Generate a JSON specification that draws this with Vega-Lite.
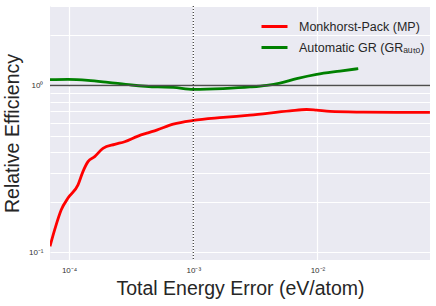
{
  "$schema": "https://vega.github.io/schema/vega-lite/v6.json",
  "width": 380,
  "height": 254,
  "autosize": {"type": "none"},
  "padding": {"left": 50, "top": 6, "right": 6, "bottom": 46},
  "background": "white",
  "config": {
    "view": {"fill": "#EAEAF2", "stroke": null},
    "font": "Liberation Sans",
    "axis": {
      "domain": false,
      "ticks": false,
      "gridColor": "white",
      "gridWidth": 1.2,
      "gridOpacity": 1,
      "labelFont": "Liberation Sans",
      "labelFontSize": 8,
      "labelColor": "#333333",
      "titleFont": "Liberation Sans",
      "titleFontSize": 19.5,
      "titleFontWeight": "normal",
      "titleColor": "#262626"
    },
    "legend": {
      "labelFont": "Liberation Sans",
      "labelFontSize": 12.5,
      "labelColor": "#262626"
    }
  },
  "datasets": {
    "curves": [
      {"err": 7.02e-5, "eff": 0.1087, "method": "Monkhorst-Pack (MP)"},
      {"err": 7.66e-5, "eff": 0.1368, "method": "Monkhorst-Pack (MP)"},
      {"err": 8.65e-5, "eff": 0.180, "method": "Monkhorst-Pack (MP)"},
      {"err": 9.80e-5, "eff": 0.2115, "method": "Monkhorst-Pack (MP)"},
      {"err": 1.18e-4, "eff": 0.254, "method": "Monkhorst-Pack (MP)"},
      {"err": 1.293e-4, "eff": 0.305, "method": "Monkhorst-Pack (MP)"},
      {"err": 1.42e-4, "eff": 0.350, "method": "Monkhorst-Pack (MP)"},
      {"err": 1.607e-4, "eff": 0.375, "method": "Monkhorst-Pack (MP)"},
      {"err": 1.875e-4, "eff": 0.4205, "method": "Monkhorst-Pack (MP)"},
      {"err": 2.33e-4, "eff": 0.4443, "method": "Monkhorst-Pack (MP)"},
      {"err": 2.80e-4, "eff": 0.4606, "method": "Monkhorst-Pack (MP)"},
      {"err": 3.59e-4, "eff": 0.498, "method": "Monkhorst-Pack (MP)"},
      {"err": 4.32e-4, "eff": 0.521, "method": "Monkhorst-Pack (MP)"},
      {"err": 5.07e-4, "eff": 0.541, "method": "Monkhorst-Pack (MP)"},
      {"err": 6.90e-4, "eff": 0.587, "method": "Monkhorst-Pack (MP)"},
      {"err": 1.0e-3, "eff": 0.618, "method": "Monkhorst-Pack (MP)"},
      {"err": 1.744e-3, "eff": 0.644, "method": "Monkhorst-Pack (MP)"},
      {"err": 2.86e-3, "eff": 0.665, "method": "Monkhorst-Pack (MP)"},
      {"err": 6.01e-3, "eff": 0.705, "method": "Monkhorst-Pack (MP)"},
      {"err": 8.18e-3, "eff": 0.719, "method": "Monkhorst-Pack (MP)"},
      {"err": 9.85e-3, "eff": 0.712, "method": "Monkhorst-Pack (MP)"},
      {"err": 1.262e-2, "eff": 0.700, "method": "Monkhorst-Pack (MP)"},
      {"err": 2.34e-2, "eff": 0.693, "method": "Monkhorst-Pack (MP)"},
      {"err": 4.34e-2, "eff": 0.690, "method": "Monkhorst-Pack (MP)"},
      {"err": 8.05e-2, "eff": 0.690, "method": "Monkhorst-Pack (MP)"},
      {"err": 7.02e-5, "eff": 1.086, "method": "Automatic GR (GRₐᵤₜₒ)"},
      {"err": 9.80e-5, "eff": 1.090, "method": "Automatic GR (GRₐᵤₜₒ)"},
      {"err": 1.42e-4, "eff": 1.076, "method": "Automatic GR (GRₐᵤₜₒ)"},
      {"err": 2.056e-4, "eff": 1.046, "method": "Automatic GR (GRₐᵤₜₒ)"},
      {"err": 3.17e-4, "eff": 1.008, "method": "Automatic GR (GRₐᵤₜₒ)"},
      {"err": 5.20e-4, "eff": 0.981, "method": "Automatic GR (GRₐᵤₜₒ)"},
      {"err": 6.90e-4, "eff": 0.975, "method": "Automatic GR (GRₐᵤₜₒ)"},
      {"err": 1.0e-3, "eff": 0.950, "method": "Automatic GR (GRₐᵤₜₒ)"},
      {"err": 1.744e-3, "eff": 0.960, "method": "Automatic GR (GRₐᵤₜₒ)"},
      {"err": 2.86e-3, "eff": 0.981, "method": "Automatic GR (GRₐᵤₜₒ)"},
      {"err": 3.90e-3, "eff": 1.004, "method": "Automatic GR (GRₐᵤₜₒ)"},
      {"err": 4.99e-3, "eff": 1.036, "method": "Automatic GR (GRₐᵤₜₒ)"},
      {"err": 6.80e-3, "eff": 1.101, "method": "Automatic GR (GRₐᵤₜₒ)"},
      {"err": 9.85e-3, "eff": 1.168, "method": "Automatic GR (GRₐᵤₜₒ)"},
      {"err": 1.518e-2, "eff": 1.222, "method": "Automatic GR (GRₐᵤₜₒ)"},
      {"err": 2.13e-2, "eff": 1.263, "method": "Automatic GR (GRₐᵤₜₒ)"}
    ]
  },
  "layer": [
    {
      "data": {"name": "curves"},
      "mark": {"type": "line", "strokeWidth": 2.8, "interpolate": "monotone", "clip": true},
      "encoding": {
        "x": {
          "field": "err",
          "type": "quantitative",
          "scale": {"type": "log", "domain": [7.02e-5, 0.0806], "nice": false},
          "axis": {
            "title": "Total Energy Error (eV/atom)",
            "values": [0.0001, 0.001, 0.01],
            "labelExpr": "datum.value < 0.0005 ? '10⁻⁴' : datum.value < 0.005 ? '10⁻³' : '10⁻²'",
            "labelPadding": 6,
            "titlePadding": 5
          }
        },
        "y": {
          "field": "eff",
          "type": "quantitative",
          "scale": {"type": "log", "domain": [0.09, 3], "nice": false},
          "axis": {
            "title": "Relative Efficiency",
            "values": [0.1, 0.2, 0.3, 0.4, 0.5, 0.6, 0.7, 0.8, 0.9, 1, 2, 3],
            "labelExpr": "abs(datum.value - 1) < 1e-9 ? '10⁰' : abs(datum.value - 0.1) < 1e-9 ? '10⁻¹' : ''",
            "labelPadding": 7,
            "titlePadding": 6
          }
        },
        "color": {
          "field": "method",
          "type": "nominal",
          "scale": {
            "domain": ["Monkhorst-Pack (MP)", "Automatic GR (GRₐᵤₜₒ)"],
            "range": ["#ff0000", "#008000"]
          },
          "legend": {
            "title": null,
            "orient": "none",
            "legendX": 210,
            "legendY": 6,
            "padding": 0,
            "symbolType": "stroke",
            "symbolSize": 676,
            "symbolStrokeWidth": 3,
            "labelOffset": 10,
            "rowPadding": -8
          }
        }
      }
    },
    {
      "data": {"values": [{"eff": 1}]},
      "mark": {"type": "rule", "color": "#4d4d4d", "strokeWidth": 1.5},
      "encoding": {"y": {"field": "eff", "type": "quantitative"}}
    },
    {
      "data": {"values": [{"err": 0.001}]},
      "mark": {"type": "rule", "color": "#111111", "strokeWidth": 1, "strokeDash": [1, 2]},
      "encoding": {"x": {"field": "err", "type": "quantitative"}}
    }
  ]
}
